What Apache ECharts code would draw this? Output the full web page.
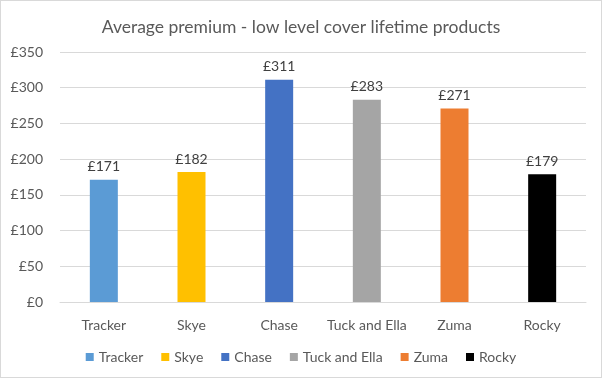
<!DOCTYPE html>
<html>
<head>
<meta charset="utf-8">
<script src="https://cdn.jsdelivr.net/npm/echarts@6/dist/echarts.min.js"></script>
<style>
html,body{margin:0;padding:0;background:#fff;}
#c{width:602px;height:378px;box-sizing:border-box;border:1px solid #d9d9d9;}
</style>
</head>
<body>
<div id="c"></div>
<script>
const categories = ["Tracker", "Skye", "Chase", "Tuck and Ella", "Zuma", "Rocky"];
const values = [171, 182, 311, 283, 271, 179];
const colors = ["#5B9BD5", "#FFC000", "#4472C4", "#A5A5A5", "#ED7D31", "#000000"];
const yTicks = [0, 50, 100, 150, 200, 250, 300, 350];

const FONT = "Lato, 'Open Sans', sans-serif";
const chart = echarts.init(document.getElementById('c'), null, {renderer: 'canvas'});

const series = categories.map((name, i) => ({
  name: name,
  type: 'bar',
  barWidth: 28,
  barGap: '-100%',
  itemStyle: {color: colors[i]},
  label: {
    show: true, position: 'top', distance: 6,
    formatter: p => '£' + p.value,
    color: '#404040', fontSize: 14, fontFamily: FONT
  },
  data: categories.map((c, j) => j === i ? values[i] : null)
}));

chart.setOption({
  animation: false,
  backgroundColor: '#fff',
  title: {
    text: 'Average premium - low level cover lifetime products',
    left: 'center', top: 12,
    textStyle: {color: '#595959', fontSize: 17.5, fontWeight: 'normal', fontFamily: FONT}
  },
  legend: {
    bottom: 8, left: 'center',
    itemWidth: 8, itemHeight: 8, itemGap: 18,
    icon: 'rect',
    textStyle: {color: '#595959', fontSize: 14, fontFamily: FONT},
    data: categories
  },
  grid: {left: 59, right: 15, top: 51, bottom: 75, containLabel: false},
  xAxis: {
    type: 'category', data: categories,
    axisLine: {lineStyle: {color: '#d9d9d9'}},
    axisTick: {show: false},
    axisLabel: {color: '#595959', fontSize: 14, fontFamily: FONT, margin: 16, interval: 0}
  },
  yAxis: {
    type: 'value', min: yTicks[0], max: yTicks[yTicks.length - 1], interval: 50,
    axisLine: {show: false}, axisTick: {show: false},
    splitLine: {lineStyle: {color: '#d9d9d9'}},
    axisLabel: {color: '#595959', fontSize: 14, fontFamily: FONT, margin: 17, formatter: v => '£' + v}
  },
  series: series
});
</script>
</body>
</html>
